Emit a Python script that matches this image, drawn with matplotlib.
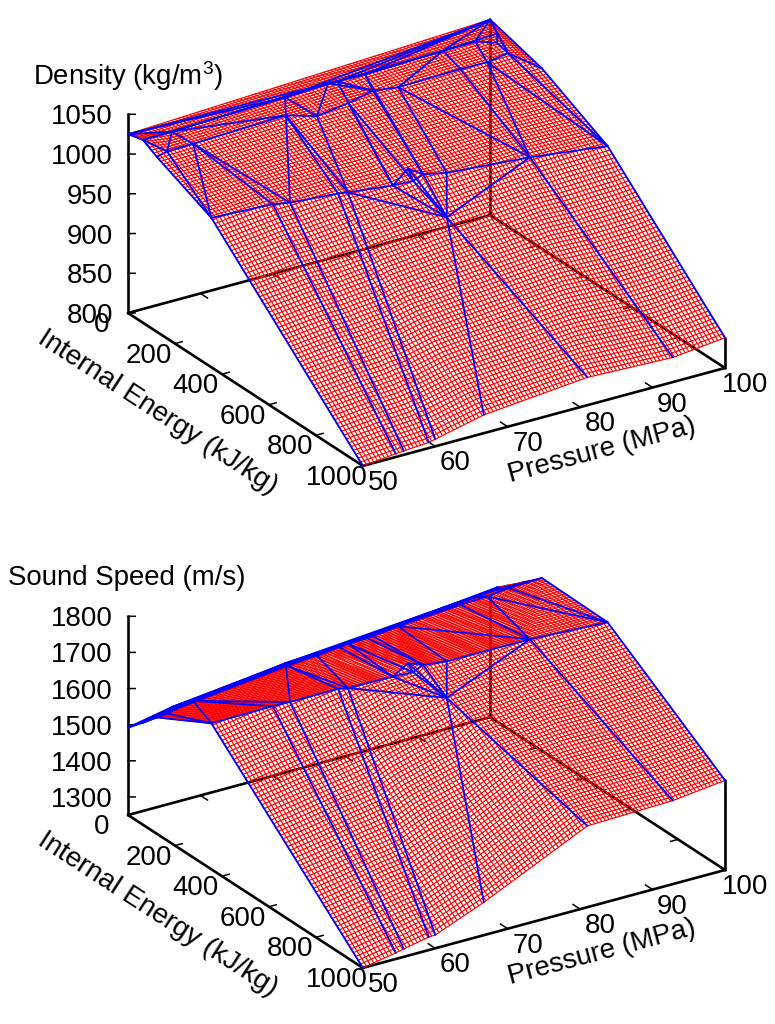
import numpy as np
import matplotlib
matplotlib.use("Agg")
import matplotlib.pyplot as plt
from matplotlib.tri import Triangulation, LinearTriInterpolator
from mpl_toolkits.mplot3d import proj3d

plt.rcParams['font.family'] = ['Liberation Sans', 'DejaVu Sans']
plt.rcParams['mathtext.fontset'] = 'custom'
plt.rcParams['mathtext.rm'] = 'Liberation Sans'
plt.rcParams['mathtext.default'] = 'regular'

# Blue-mesh nodes read off the picture. The fine red mesh is sampled linearly
# across these read nodes, since its individual cells cannot be read one by one.
pressure_nodes = [50, 100, 50, 50, 50, 54.55, 51.6, 55.15, 69.9, 67.75, 70.9, 75.85, 77, 75.55,
                  80.55, 79.6, 82.45, 91.25, 90.85, 94.4, 97.55, 95.5, 97.55, 98.7, 100, 100,
                  57.8, 59.95, 66, 67.25, 72.9, 76.7, 79.7, 90.15, 75.45, 75.85, 76.5,
                  50, 54.55, 55.65, 59.1, 60, 66.7, 81, 92.8, 100]
energy_nodes = [0, 0, 64, 123, 355, 47, 117, 118, 55, 125, 160, 55, 58, 150, 67, 130, 150, 70,
                155, 160, 152, 75, 105, 70, 220, 500, 376, 383, 401, 404, 421, 433, 441, 473,
                429, 395, 540, 1000, 1000, 1000, 1000, 1000, 1000, 1000, 1000, 1000]
density_nodes = [1025, 1046, 1030, 1020, 988, 1026, 1022, 1023, 1033, 1029, 1027, 1036, 1036,
                 1030, 1038, 1032, 1033, 1042, 1036, 1037, 1039, 1044, 1043, 1045, 1027, 983,
                 990, 988, 988, 987, 985, 992, 988, 988, 986, 994, 959,
                 800, 804, 805, 807, 809, 823, 835, 831, 838]
sound_nodes = [1492, 1599, 1533, 1572, 1654, 1544, 1572, 1588, 1585, 1621, 1646, 1590, 1596,
               1649, 1605, 1640, 1660, 1630, 1676, 1682, 1685, 1638, 1662, 1646, 1728, 1724,
               1668, 1671, 1682, 1679, 1687, 1704, 1701, 1719, 1689, 1697, 1659,
               1250, 1267, 1272, 1286, 1287, 1341, 1475, 1481, 1498]
# 1-based node pairs joined by blue lines
blue_edges = [(1,3),(3,4),(4,5),(5,38),(2,25),(25,26),(26,46),
              (1,6),(1,9),(3,6),(3,7),(4,7),(6,7),(6,8),(7,8),(7,5),(8,5),(6,10),(8,10),(6,9),
              (8,27),(8,28),(9,10),(10,11),(10,28),(10,29),(10,30),(11,12),(11,14),(14,16),
              (11,30),(9,11),(9,12),(12,13),(13,15),(12,16),(13,16),(15,16),(14,31),(14,35),
              (13,31),(15,32),(16,32),(17,33),(16,17),(15,18),(17,18),(17,19),(19,20),(20,21),
              (17,34),(18,19),(19,34),(20,34),(18,22),(22,2),(2,24),(22,20),(22,23),(23,24),
              (24,21),(23,21),(21,25),(2,21),(20,26),(21,26),(34,26),(2,18),(2,15),(2,13),(2,9),
              (5,27),(27,28),(28,29),(29,30),(30,31),(31,35),(35,32),(32,33),(33,34),
              (31,36),(36,32),(35,36),(30,37),(31,37),(36,37),(32,37),(33,37),(34,37),(35,37),
              (27,39),(28,40),(29,41),(30,42),(37,43),(37,44),(34,45),
              (6,12),(9,13),(12,15),(13,18),(15,22),(18,24),(1,12),(3,9)]

pressure_ticks = [50, 60, 70, 80, 90, 100]
energy_ticks = [0, 200, 400, 600, 800, 1000]
density_ticks = [800, 850, 900, 950, 1000, 1050]
sound_ticks = [1300, 1400, 1500, 1600, 1700, 1800]
P_LIM = (50, 100)
U_LIM = (0, 1000)
W, H = 775, 1024
FONT = 19.9


def project(ax, x, y, z):
    xs, ys, _ = proj3d.proj_transform(np.array([x]), np.array([y]), np.array([z]), ax.get_proj())
    return ax.transData.transform((xs[0], ys[0]))


def fit_axes(ax, zmin, left_px, right_px):
    """Scale and shift the axes until the base corners land on the wanted pixels."""
    target_left = np.array([left_px[0], H - left_px[1]], float)
    target_right = np.array([right_px[0], H - right_px[1]], float)
    for _ in range(3):
        ax.apply_aspect()
        a = project(ax, 50, 0, zmin)
        b = project(ax, 100, 1000, zmin)
        s = np.hypot(*(target_right - target_left)) / np.hypot(*(b - a))
        pos = ax.get_position()
        cx, cy = pos.x0 + pos.width / 2, pos.y0 + pos.height / 2
        nw, nh = pos.width * s, pos.height * s
        ax.set_position([cx - nw / 2, cy - nh / 2, nw, nh])
        ax.apply_aspect()
        a = project(ax, 50, 0, zmin)
        b = project(ax, 100, 1000, zmin)
        d = (target_left + target_right - a - b) / 2
        pos = ax.get_position()
        ax.set_position([pos.x0 + d[0] / W, pos.y0 + d[1] / H, pos.width, pos.height])
    ax.apply_aspect()


def panel(fig, znodes, zlim, zticks, left_px, right_px, title, title_xy, dy):
    ax = fig.add_axes([0, 0.1, 1, W / H], projection='3d', proj_type='ortho')
    ax.patch.set_visible(False)
    ax.set_axis_off()
    ax.computed_zorder = False
    ax.view_init(elev=24.8, azim=-122.8)
    ax.set_box_aspect((431, 433.7, 219))

    P = np.array(pressure_nodes, float)
    U = np.array(energy_nodes, float)
    Z = np.array(znodes, float)
    p, u = (P - 50) / 50, U / 1000
    interp = LinearTriInterpolator(Triangulation(p, u), Z)
    gp = np.linspace(1e-7, 1 - 1e-7, 101)
    PP, UU = np.meshgrid(gp, gp)
    ZZ = interp(PP, UU).filled(np.nan)
    wf = ax.plot_wireframe(50 + 50 * PP, 1000 * UU, ZZ, rstride=1, cstride=1,
                           color='#ff0000', linewidth=0.85, zorder=2)
    wf.set_clip_on(False)

    for i, j in blue_edges:
        ax.plot([P[i - 1], P[j - 1]], [U[i - 1], U[j - 1]], [Z[i - 1], Z[j - 1]],
                color='#0000ff', lw=1.3, zorder=3, clip_on=False, solid_capstyle='round')

    zmin, zmax = zlim
    k = dict(color='black', lw=1.9, zorder=1, clip_on=False, solid_capstyle='round')
    t = dict(color='black', lw=1.1, zorder=1, clip_on=False)
    # base frame and poles
    ax.plot([50, 100, 100, 50, 50], [0, 0, 1000, 1000, 0], [zmin] * 5, **k)
    ax.plot([50, 50], [0, 0], [zmin, zmax], **k)
    ax.plot([100, 100], [0, 0], [zmin, Z[1]], **k)
    ax.plot([100, 100], [1000, 1000], [zmin, Z[45]], **k)
    # ticks
    for v in pressure_ticks:
        ax.plot([v, v], [1000, 970], [zmin, zmin], **t)
        ax.plot([v, v], [0, 30], [zmin, zmin], **t)
    for v in energy_ticks:
        ax.plot([50, 51], [v, v], [zmin, zmin], **t)
        ax.plot([100, 99], [v, v], [zmin, zmin], **t)
    for v in zticks:
        ax.plot([50, 50.7], [0, 9], [v, v], **t)

    ax.set_xlim(*P_LIM)
    ax.set_ylim(U_LIM[1], U_LIM[0])
    ax.set_zlim(zmin, zmax)
    fit_axes(ax, zmin, left_px, right_px)

    def label(x, y, z, text, off, ha):
        d = project(ax, x, y, z)
        fig.text((d[0] + off[0]) / W, (d[1] + off[1]) / H, text, ha=ha, va='center',
                 fontsize=FONT, color='black')

    for v in zticks:
        label(50, 0, v, str(v), (-15, -3), 'right')
    for v in pressure_ticks:
        label(v, 1000, zmin, str(v), (20, -17), 'center')
    for v in energy_ticks:
        label(50, v, zmin, str(v), (-26, -12), 'center')

    fig.text(title_xy[0] / W, 1 - title_xy[1] / H, title, ha='left', va='center',
             fontsize=FONT, color='black')
    fig.text(158 / W, 1 - (412 + dy) / H, 'Internal Energy (kJ/kg)', rotation=-33,
             rotation_mode='anchor', ha='center', va='center', fontsize=FONT * 1.01)
    fig.text(601.5 / W, 1 - (450 + dy) / H, 'Pressure (MPa)', rotation=15,
             rotation_mode='anchor', ha='center', va='center', fontsize=FONT * 1.0)


fig = plt.figure(figsize=(W / 100, H / 100), dpi=100, facecolor='white')
panel(fig, density_nodes, (800, 1050), density_ticks, (128, 313), (725, 368),
      'Density (kg/m$^{3}$)', (33, 76), 0)
panel(fig, sound_nodes, (1250, 1800), sound_ticks, (128, 815), (725, 870),
      'Sound Speed (m/s)', (8, 578), 502)
fig.savefig('out.png', dpi=100, facecolor='white')
